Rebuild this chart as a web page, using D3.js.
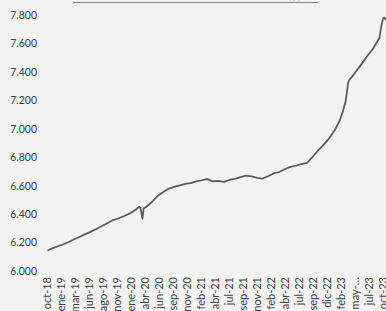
<!DOCTYPE html>
<html lang="es">
<head>
<meta charset="utf-8">
<script src="https://d3js.org/d3.v7.min.js"></script>
<style>
  html, body { margin: 0; padding: 0; background: #f2f2f2; }
  svg { display: block; font-family: "Lato", "DejaVu Sans", sans-serif; }
</style>
</head>
<body>
<svg width="386" height="311"></svg>
<script>
  // fechas y valores
  var dates = ["2018-10-19","2018-11-15","2018-12-15","2019-01-15","2019-02-15","2019-03-15","2019-04-15",
    "2019-05-15","2019-06-15","2019-07-15","2019-08-15","2019-09-15","2019-10-15","2019-11-15","2019-12-15",
    "2020-01-15","2020-02-15","2020-03-06","2020-03-13","2020-03-24","2020-03-31","2020-04-15","2020-05-15",
    "2020-06-15","2020-07-15","2020-08-15","2020-09-15","2020-10-15","2020-11-15","2020-12-15","2021-01-15",
    "2021-02-15","2021-03-15","2021-04-15","2021-05-15","2021-06-15","2021-07-15","2021-08-15","2021-09-15",
    "2021-10-15","2021-11-15","2021-12-15","2022-01-15","2022-02-15","2022-03-15","2022-04-15","2022-05-15",
    "2022-06-15","2022-07-15","2022-08-15","2022-09-15","2022-10-15","2022-11-15","2022-12-15","2023-01-15",
    "2023-02-15","2023-03-15","2023-04-01","2023-04-15","2023-04-22","2023-04-29","2023-05-06","2023-05-20",
    "2023-06-15","2023-07-15","2023-08-15","2023-09-15","2023-10-19","2023-10-26","2023-11-02","2023-11-09",
    "2023-11-16","2023-11-23"];
  var values = [6144,6159,6174,6188,6206,6223,6241,
    6259,6277,6295,6316,6338,6358,6371,6387,
    6405,6430,6452,6445,6368,6440,6452,6485,
    6527,6554,6578,6591,6602,6612,6618,6630,
    6638,6646,6630,6634,6627,6640,6648,6660,
    6670,6665,6655,6650,6668,6686,6696,6715,
    6732,6740,6752,6760,6800,6847,6887,6933,
    6990,7060,7125,7190,7250,7320,7345,7365,
    7408,7460,7515,7566,7640,7700,7745,7778,
    7782,7765];

  var tickLabels = ["oct-18","ene-19","mar-19","jun-19","ago-19","nov-19","ene-20","abr-20","jun-20",
    "sep-20","nov-20","feb-21","abr-21","jul-21","sep-21","nov-21","feb-22","abr-22","jul-22","sep-22",
    "dic-22","feb-23","may-…","jul-23","oct-23"];
  var yTicks = [6000,6200,6400,6600,6800,7000,7200,7400,7600,7800];

  var parse = d3.timeParse("%Y-%m-%d");
  var data = dates.map(function (d, i) { return { date: parse(d), value: values[i] }; });

  var start = parse("2018-10-19");
  var tickDates = tickLabels.map(function (l, i) { return d3.timeDay.offset(start, i * 77); });

  var svg = d3.select("svg");
  var x = d3.scaleTime().domain([start, tickDates[24]]).range([47.5, 383.5]);
  var y = d3.scaleLinear().domain([6000, 7800]).range([271, 15]);

  var loc = d3.formatLocale({ decimal: ",", thousands: ".", grouping: [3], currency: ["$", ""] });
  var fmt = loc.format(",.0f");

  // titulo (cortado arriba)
  svg.append("text").attr("x", 73).attr("y", -1).attr("textLength", 245)
    .attr("font-size", 13).attr("fill", "#bfbfbf").text("Evolución del salario medio mensual (y) ....");
  svg.append("line").attr("x1", 73).attr("x2", 318).attr("y1", 2.5).attr("y2", 2.5)
    .attr("stroke", "#7f7f7f").attr("stroke-width", 1);

  // eje y
  svg.append("g").attr("transform", "translate(37,0)")
    .call(d3.axisLeft(y).tickValues(yTicks).tickFormat(fmt).tickSize(0).tickPadding(0))
    .call(function (g) { g.select(".domain").remove(); })
    .selectAll("text").attr("font-size", 10.5).attr("fill", "#404040").attr("font-family", "Lato, sans-serif");

  // eje x
  var xa = svg.append("g")
    .call(d3.axisBottom(x).tickValues(tickDates).tickFormat(function (d, i) { return tickLabels[i]; }).tickSize(0).tickPadding(0));
  xa.select(".domain").remove();
  xa.selectAll("text").attr("font-size", 11).attr("fill", "#404040").attr("font-family", "Lato, sans-serif")
    .attr("transform", "rotate(-90)").attr("text-anchor", "end").attr("dy", "0.35em")
    .attr("x", -3).attr("y", 0);
  xa.selectAll(".tick").attr("transform", function (d) { return "translate(" + x(d) + ",274)"; });

  // linea
  var line = d3.line().x(function (d) { return x(d.date); }).y(function (d) { return y(d.value); });
  svg.append("path").datum(data).attr("d", line).attr("fill", "none")
    .attr("stroke", "#595959").attr("stroke-width", 1.75).attr("stroke-linejoin", "round");
</script>
</body>
</html>
